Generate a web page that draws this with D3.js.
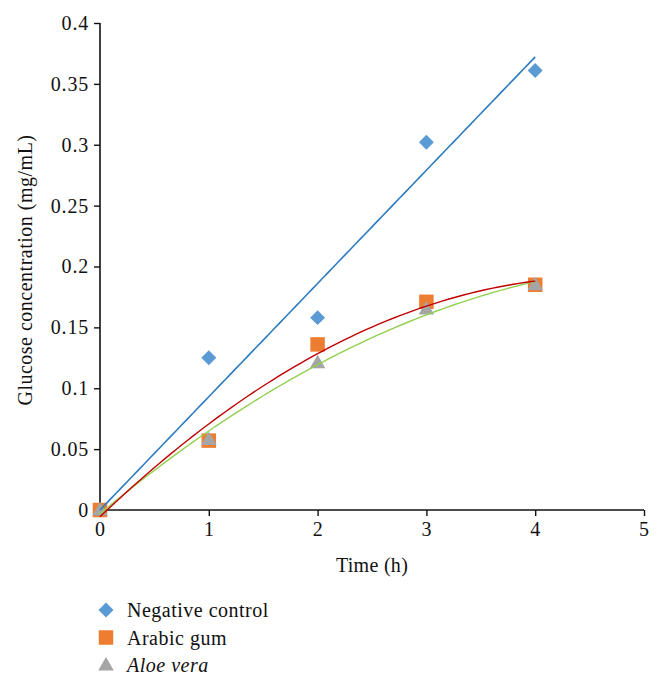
<!DOCTYPE html>
<html>
<head>
<meta charset="utf-8">
<script src="https://cdn.jsdelivr.net/npm/d3@7"></script>
<style>
  body { margin: 0; background: #fff; }
  text { font-family: "Liberation Serif", "DejaVu Serif", serif; fill: #111; }
</style>
</head>
<body>
<svg id="chart" width="662" height="685"></svg>
<script>
// data
const hours = [0, 1, 2, 3, 4];
const negativeControl = [0, 0.125, 0.158, 0.302, 0.361];
const arabicGum = [0, 0.057, 0.136, 0.171, 0.185];
const aloeVera = [0, 0.058, 0.121, 0.165, 0.185];
const xTicks = [0, 1, 2, 3, 4, 5];
const yTicks = [0, 0.05, 0.1, 0.15, 0.2, 0.25, 0.3, 0.35, 0.4];

const svg = d3.select("#chart");
const x = d3.scaleLinear().domain([0, 5]).range([100, 644]);
const y = d3.scaleLinear().domain([0, 0.4]).range([510, 23]);

// least squares fits, like the spreadsheet trendlines
function linearThroughOrigin(xs, ys) {
    let sxy = 0, sxx = 0;
    xs.forEach((v, i) => { sxy += v * ys[i]; sxx += v * v; });
    const k = sxy / sxx;
    return t => k * t;
}
function quadFit(xs, ys) {
    // normal equations for a + b x + c x^2
    let s = [0, 0, 0, 0, 0], r = [0, 0, 0];
    xs.forEach((v, i) => {
        for (let p = 0; p < 5; p++) s[p] += Math.pow(v, p);
        for (let p = 0; p < 3; p++) r[p] += Math.pow(v, p) * ys[i];
    });
    const m = [[s[0], s[1], s[2], r[0]], [s[1], s[2], s[3], r[1]], [s[2], s[3], s[4], r[2]]];
    for (let i = 0; i < 3; i++) {
        for (let j = i + 1; j < 3; j++) {
            const f = m[j][i] / m[i][i];
            for (let k = i; k < 4; k++) m[j][k] -= f * m[i][k];
        }
    }
    const c = m[2][3] / m[2][2];
    const b = (m[1][3] - m[1][2] * c) / m[1][1];
    const a = (m[0][3] - m[0][1] * b - m[0][2] * c) / m[0][0];
    return t => a + b * t + c * t * t;
}

const line = d3.line().x(d => x(d[0])).y(d => y(d[1]));
const samples = d3.range(0, 4.0001, 0.05);

const fits = [
    { f: linearThroughOrigin(hours, negativeControl), color: "#2e7bbf", w: 1.6 },
    { f: quadFit(hours, aloeVera), color: "#92d050", w: 1.4 },
    { f: quadFit(hours, arabicGum), color: "#c00000", w: 1.4 }
];

// axes
const yAxis = d3.axisLeft(y).tickValues(yTicks).tickSize(6).tickPadding(5)
    .tickFormat(d => String(+d.toFixed(2)));
const gy = svg.append("g").attr("transform", "translate(100,0)").call(yAxis);
const xAxis = d3.axisBottom(x).tickValues(xTicks).tickSize(6).tickPadding(6).tickFormat(d3.format("d"));
const gx = svg.append("g").attr("transform", "translate(0,510)").call(xAxis);
[gy, gx].forEach(g => {
    g.attr("font-family", "Liberation Serif").attr("font-size", 20);
    g.select(".domain").attr("stroke", "#111").attr("stroke-width", 1.6);
    g.selectAll(".tick line").attr("stroke", "#111").attr("stroke-width", 1.4);
    g.selectAll(".tick text").attr("fill", "#111").style("letter-spacing", "0.8px");
});
gy.select(".domain").attr("d", "M0,510V23");
gx.select(".domain").attr("d", "M100,0H644");

// markers
const sym = {
    diamond: d3.symbol().type(d3.symbolSquare).size(112),
    square: d3.symbol().type(d3.symbolSquare).size(210),
    triangle: d3.symbol().type(d3.symbolTriangle).size(105)
};
const series = [
    { name: "Negative control", vals: negativeControl, color: "#5b9bd5", shape: "diamond", italic: false },
    { name: "Arabic gum", vals: arabicGum, color: "#ed7d31", shape: "square", italic: false },
    { name: "Aloe vera", vals: aloeVera, color: "#a5a5a5", shape: "triangle", italic: true }
];
function drawMark(g, s, cx, cy) {
    const rot = s.shape === "diamond" ? " rotate(45)" : "";
    const dy = s.shape === "triangle" ? 1 : 0;
    g.append("path").attr("d", sym[s.shape]())
        .attr("transform", `translate(${cx},${cy + dy})${rot}`)
        .attr("fill", s.color);
}
series.forEach(s => {
    const g = svg.append("g");
    hours.forEach((h, i) => drawMark(g, s, x(h), y(s.vals[i])));
});

// trendlines on top
fits.forEach(t => {
    svg.append("path").datum(samples.map(v => [v, t.f(v)]))
        .attr("d", line).attr("fill", "none")
        .attr("stroke", t.color).attr("stroke-width", t.w);
});

// axis titles
svg.append("text").attr("x", 372).attr("y", 572).attr("text-anchor", "middle")
    .style("font-size", "20px").style("letter-spacing", "0.3px").text("Time (h)");
svg.append("text").attr("transform", "translate(32,270) rotate(-90)").attr("text-anchor", "middle")
    .style("font-size", "20px").style("letter-spacing", "0.5px").text("Glucose concentration (mg/mL)");

// legend
series.forEach((s, i) => {
    const ly = 610 + i * 27.5;
    const g = svg.append("g");
    drawMark(g, s, 106, ly);
    g.append("text").attr("x", 127).attr("y", ly + 7)
        .style("font-size", "20px").style("letter-spacing", "0.5px")
        .style("font-style", s.italic ? "italic" : "normal")
        .text(s.name);
});
</script>
</body>
</html>
